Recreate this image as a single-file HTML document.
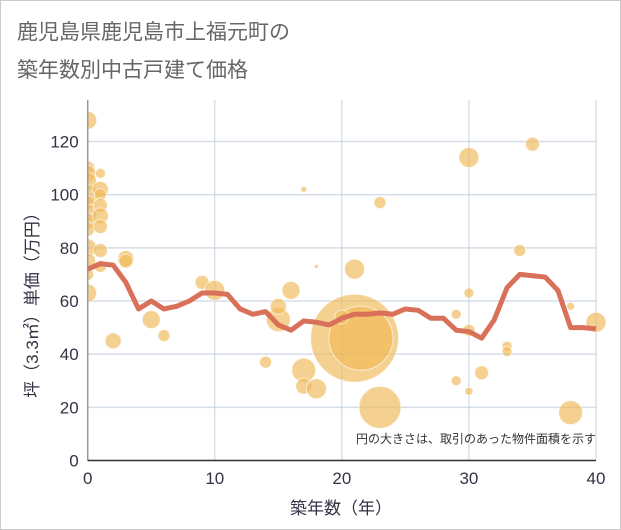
<!DOCTYPE html>
<html><head><meta charset="utf-8"><style>
body{margin:0;background:#fff;}
svg{display:block;font-family:"Liberation Sans","Noto Sans CJK JP",sans-serif;}
</style></head><body>
<svg id="chart" width="621" height="530" viewBox="0 0 621 530">
<defs><clipPath id="plotclip"><rect x="88" y="90" width="520" height="371"/></clipPath></defs>
<rect x="0.5" y="0.5" width="620" height="529" fill="#fff" stroke="#ccc"/>
<text x="17" y="39" font-size="21" fill="#666">鹿児島県鹿児島市上福元町の</text>
<text x="17" y="77" font-size="21" fill="#666">築年数別中古戸建て価格</text>
<g id="grid"></g>
<g id="bubbles" clip-path="url(#plotclip)"></g>
<g id="line"></g>
<g id="axes"></g>
<text x="596" y="443" font-size="12" fill="#333" text-anchor="end">円の大きさは、取引のあった物件面積を示す</text>
<text x="341" y="514" font-size="17" fill="#334" text-anchor="middle">築年数（年）</text>
<text transform="translate(38,301) rotate(-90)" font-size="17" fill="#334" text-anchor="middle">坪（3.3㎡）単価（万円）</text>
</svg>
<script>
const xTicks=[0,10,20,30,40];
const yTicks=[0,20,40,60,80,100,120];
const lineYears=[0,1,2,3,4,5,6,7,8,9,10,11,12,13,14,15,16,17,18,19,20,21,22,23,24,25,26,27,28,29,30,31,32,33,34,35,36,37,38,39,40];
const linePrices=[72,74,73.5,67,57,60,57,58,60,63,63,62.5,57,55,56,51,49,52.5,52,51,53.5,55,55,55.5,55,57,56.5,53.5,53.5,49,48.5,46,53,65,70,69.5,69,64,50,50,49.5];
const bubbleX=[0,0,0,0,0,0,0,0,0,0,0,0,0,1,1,1,1,1,1,1,1,2,3,3,5,6,9,10,14,15,15,16,17,17,17,18,18,21,21,21.5,20,23,23,29,29,30,30,30,30,31,33,33,34,35,38,38,40];
const bubbleY=[128,110,108,105,100,97,93,90,87,80,75,70,63,108,102,100,96,92,88,79,73,45,76,75,53,47,67,64,37,53,58,64,102,34,28,27,73,72,46,46,54,97,20,55,30,114,63,49,26,33,43,41,79,119,58,18,52];
const bubbleArea=[81,49,64,81,100,49,81,64,49,81,64,36,81,25,64,36,49,64,49,49,36,64,64,49,81,36,49,100,36,144,64,81,9,144,64,100,4,100,1936,1024,49,36,441,25,25,100,25,36,16,49,25,25,36,49,16,144,100];
const X0=87.7,X1=596,Y0=460.5,Y1=141.5;
function sx(v){return X0+(v-0)/(40-0)*(X1-X0);}
function sy(v){return Y0-(v-0)/(120-0)*(Y0-Y1);}
const NS="http://www.w3.org/2000/svg";
function mk(tag,attrs,parent){const e=document.createElementNS(NS,tag);for(const k in attrs)e.setAttribute(k,attrs[k]);parent.appendChild(e);return e;}
const grid=document.getElementById('grid'),axes=document.getElementById('axes');
yTicks.forEach(t=>{
 const l=mk('line',{x1:X0,x2:X1,y1:sy(t),y2:sy(t),stroke:'#d5dde8','stroke-width':1.5},grid);
 
 
 const tx=mk('text',{x:X0-9,y:sy(t)+6,'font-size':17,fill:'#334','text-anchor':'end'},axes);
 tx.textContent=t;
 
 
});
xTicks.forEach(t=>{
 const l=mk('line',{x1:sx(t),x2:sx(t),y1:100,y2:Y0,stroke:'#c8d2df','stroke-width':1},grid);
 
 
 const tx=mk('text',{x:sx(t),y:484,'font-size':17,fill:'#334','text-anchor':'middle'},axes);
 tx.textContent=t;
 
 
});
const ax=mk('line',{x1:X0,x2:X0,y1:100,y2:Y0,stroke:'#999','stroke-width':1.5},axes);


const ax2=mk('line',{x1:X0,x2:X1,y1:Y0,y2:Y0,stroke:'#333','stroke-width':1.5},axes);


const bg=document.getElementById('bubbles');
bubbleX.forEach((x,i)=>{
 const c=mk('circle',{cx:sx(x),cy:sy(bubbleY[i]),r:Math.sqrt(bubbleArea[i]),fill:'#f0b956','fill-opacity':0.65,stroke:'#fff','stroke-opacity':0.6,'stroke-width':1},bg);
 
 
});
const pts=lineYears.map((y,i)=>sx(y)+','+sy(linePrices[i])).join(' ');
const pl=mk('polyline',{points:pts,fill:'none',stroke:'#d9705a','stroke-width':5,'stroke-linejoin':'round'},document.getElementById('line'));


</script>
</body></html>
